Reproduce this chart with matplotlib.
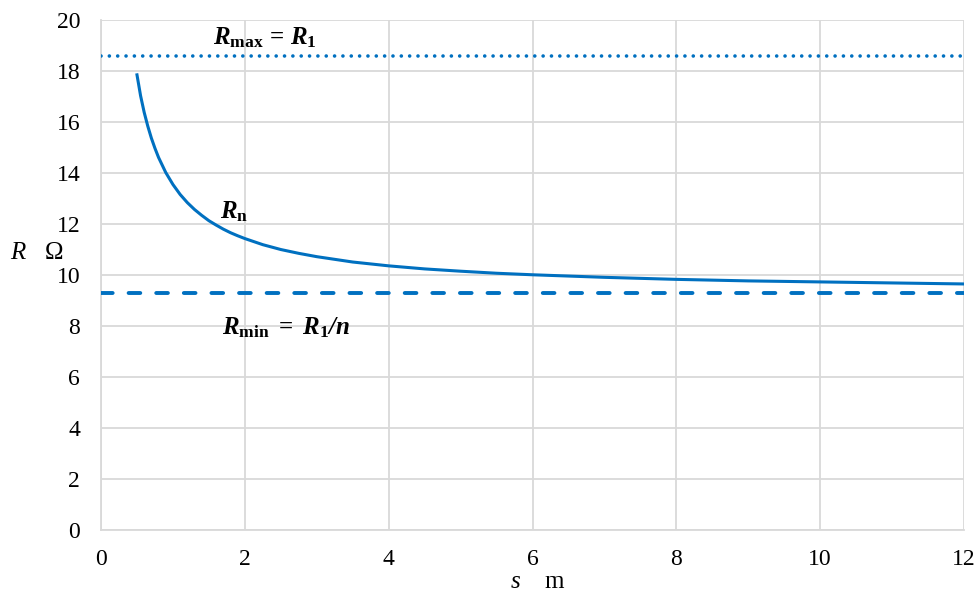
import matplotlib

matplotlib.use("Agg")
import matplotlib.pyplot as plt

# values
s_values = [0.5, 0.55, 0.6, 0.65, 0.7, 0.75, 0.8, 0.9, 1.0, 1.1, 1.2, 1.3, 1.4, 1.5,
            1.6, 1.7, 1.8, 1.9, 2.0, 2.25, 2.5, 2.75, 3.0, 3.5, 4.0, 4.5, 5.0, 5.5,
            6.0, 7.0, 8.0, 9.0, 10.0, 11.0, 12.0]
r_n_values = [17.85, 17.03, 16.38, 15.84, 15.37, 14.97, 14.61, 14.02, 13.55, 13.16,
              12.84, 12.57, 12.34, 12.13, 11.96, 11.8, 11.66, 11.54, 11.43, 11.19,
              11.0, 10.85, 10.72, 10.51, 10.36, 10.24, 10.15, 10.07, 10.01, 9.91,
              9.83, 9.77, 9.73, 9.69, 9.65]
r_max = 18.6
r_min = 9.3
x_ticks = [0, 2, 4, 6, 8, 10, 12]
y_ticks = [0, 2, 4, 6, 8, 10, 12, 14, 16, 18, 20]

BLUE = "#0070C0"
GRID = "#D9D9D9"

plt.rcParams["font.family"] = ["Liberation Serif", "DejaVu Serif"]
plt.rcParams["mathtext.fontset"] = "custom"
plt.rcParams["mathtext.rm"] = "Liberation Serif"
plt.rcParams["mathtext.it"] = "Liberation Serif:italic"
plt.rcParams["mathtext.bf"] = "Liberation Serif:bold"
plt.rcParams["mathtext.bfit"] = "Liberation Serif:bold:italic"

fig = plt.figure(figsize=(9.78, 6.03), dpi=100)
ax = fig.add_axes([0.1033, 0.121, 0.8824, 0.8458])

ax.plot(s_values, r_n_values, color=BLUE, linewidth=2.2, zorder=3,
        solid_joinstyle="round")
ax.axhline(r_max, color=BLUE, linewidth=2.6, linestyle=(0, (0.01, 2.3)),
           dash_capstyle="round", zorder=3)
ax.axhline(r_min, color=BLUE, linewidth=2.8, linestyle=(0, (3.0, 4.1)),
           dash_capstyle="round", zorder=3)

ax.set_xlim(0, 12)
ax.set_ylim(0, 20)
ax.set_xticks(x_ticks)
ax.set_yticks(y_ticks)
ax.tick_params(length=0, labelsize=17)
ax.tick_params(axis="x", pad=14)
ax.tick_params(axis="y", pad=15)
ax.grid(True, color=GRID, linewidth=1.3)
for side in ["top", "right"]:
    ax.spines[side].set_visible(False)
for side in ["left", "bottom"]:
    ax.spines[side].set_color(GRID)
    ax.spines[side].set_linewidth(1.3)
ax.set_axisbelow(True)

fig.text(0.01, 0.58, r"$\mathit{R}$   $\Omega$", fontsize=18, va="center", ha="left")
fig.text(0.55, 0.016, r"$\mathit{s}$    m", fontsize=18, va="bottom", ha="center")

ax.text(2.28, 19.3, r"$\mathbfit{R}_{\mathbf{max}}\mathbf{\,=\,}\mathbfit{R}_{\mathbf{1}}$",
        fontsize=18, ha="center", va="center")
ax.text(1.85, 12.5, r"$\mathbfit{R}_{\mathbf{n}}$", fontsize=18, ha="center", va="center")
ax.text(2.57, 7.95, r"$\mathbfit{R}_{\mathbf{min}}\mathbf{\ =\ }\mathbfit{R}_{\mathbf{1}}\mathbfit{/n}$",
        fontsize=18, ha="center", va="center")

fig.savefig("out.png", dpi=100)
